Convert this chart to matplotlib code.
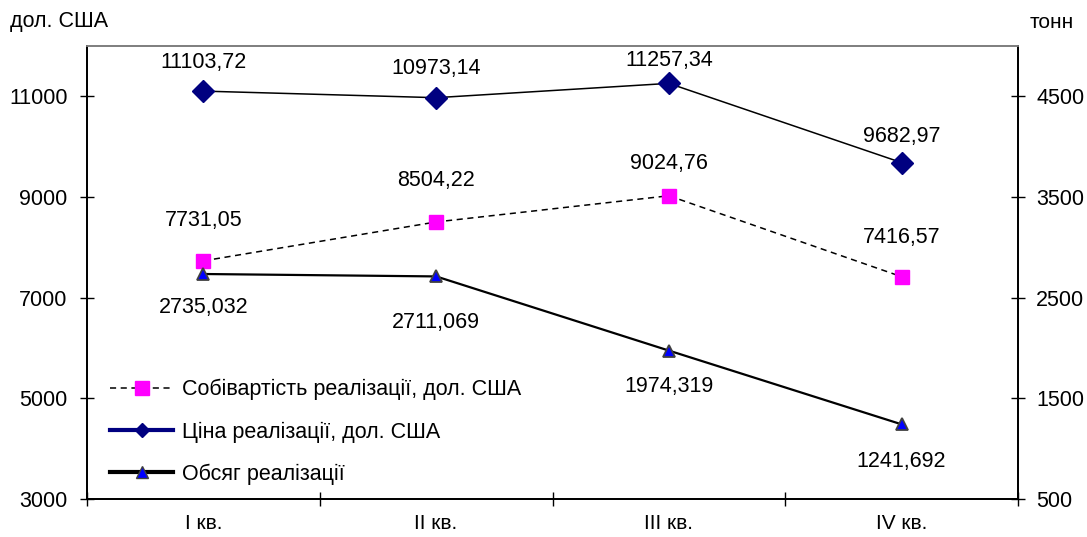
#!/usr/bin/env python3
# -*- coding: utf-8 -*-

"""Price, cost and volume of sales by quarter, on two value axes."""

import matplotlib
matplotlib.use('Agg')
import matplotlib.pyplot as plt
from matplotlib.lines import Line2D

# Data.
quarters = ['I кв.', 'II кв.', 'III кв.', 'IV кв.']
price = [11103.72, 10973.14, 11257.34, 9682.97]
cost = [7731.05, 8504.22, 9024.76, 7416.57]
volume = [2735.032, 2711.069, 1974.319, 1241.692]

left_ticks = [3000, 5000, 7000, 9000, 11000]
right_ticks = [500, 1500, 2500, 3500, 4500]

# Label offsets in pixels (above / below each marker).
price_off = [29, 29, 23, 26]
cost_off = [40, 41, 32, 39]
volume_off = [-33, -46, -36, -37]

plt.rcParams['font.family'] = ['Liberation Sans', 'DejaVu Sans']

fig = plt.figure(figsize=(10.87, 5.37), dpi=100)
ax = fig.add_axes([87 / 1087, 1 - 499 / 537, (1018 - 87) / 1087, (499 - 46) / 537])
ax2 = ax.twinx()

x = list(range(len(quarters)))

# Lines.
ax.plot(x, cost, color='black', linestyle=(0, (4, 3)), linewidth=1.1,
        marker='s', markersize=9.5, markerfacecolor='#ff00ff',
        markeredgecolor='#ff00ff', zorder=3)
ax.plot(x, price, color='black', linewidth=1.1, marker='D', markersize=11.5,
        markerfacecolor='#000080', markeredgecolor='#000080', zorder=4)
ax2.plot(x, volume, color='black', linewidth=1.6, marker='^', markersize=9,
         markerfacecolor='#0000ff', markeredgecolor='#404040',
         markeredgewidth=1.3, zorder=3)

# Data labels.
for i in x:
    ax.annotate('{:.2f}'.format(price[i]).replace('.', ','), (i, price[i]),
                xytext=(0, price_off[i]), textcoords='offset pixels',
                ha='center', va='center', fontsize=15.5)
    ax.annotate('{:.2f}'.format(cost[i]).replace('.', ','), (i, cost[i]),
                xytext=(0, cost_off[i]), textcoords='offset pixels',
                ha='center', va='center', fontsize=15.5)
    ax2.annotate('{:.3f}'.format(volume[i]).replace('.', ','), (i, volume[i]),
                 xytext=(0, volume_off[i]), textcoords='offset pixels',
                 ha='center', va='center', fontsize=15.5)

# Axes.
ax.set_xlim(-0.5, 3.5)
ax.set_ylim(3000, 12000)
ax2.set_ylim(500, 5000)
ax.set_yticks(left_ticks)
ax2.set_yticks(right_ticks)
ax.set_xticks([-0.5, 0.5, 1.5, 2.5, 3.5])
ax.set_xticklabels([])
ax.set_xticks(x, minor=True)
ax.set_xticklabels(quarters, minor=True)

ax.tick_params(axis='x', which='major', direction='inout', length=10, width=1)
ax.tick_params(axis='x', which='minor', length=0, pad=11, labelsize=15)
ax.tick_params(axis='y', direction='inout', length=10, width=1,
               labelsize=15.5, pad=9)
ax2.tick_params(axis='y', direction='inout', length=10, width=1,
                labelsize=15.5, pad=8)

for a in (ax, ax2):
    a.spines['top'].set_color('#808080')
    a.spines['top'].set_linewidth(1.3)
    a.spines['left'].set_linewidth(1.3)
    a.spines['bottom'].set_linewidth(1.3)
    a.spines['right'].set_linewidth(1.3)

fig.text(10 / 1087, 1 - 22 / 537, 'дол. США', fontsize=15.5, va='center')
fig.text(1030 / 1087, 1 - 22 / 537, 'тонн', fontsize=15, va='center')

# Legend with handles as drawn in the reference.
handles = [
    Line2D([], [], color='black', linestyle=(0, (4, 3)), linewidth=1.1,
           marker='s', markersize=9.5, markerfacecolor='#ff00ff',
           markeredgecolor='#ff00ff'),
    Line2D([], [], color='#000080', linewidth=3, marker='D', markersize=7,
           markerfacecolor='#000080', markeredgecolor='#000080'),
    Line2D([], [], color='black', linewidth=3, marker='^', markersize=9,
           markerfacecolor='#0000ff', markeredgecolor='#404040'),
]
labels = ['Собівартість реалізації, дол. США', 'Ціна реалізації, дол. США',
          'Обсяг реалізації']
ax2.legend(handles, labels, loc='center left', bbox_to_anchor=(0.0247, 0.148),
           frameon=False, fontsize=15.5, handlelength=2.93, handletextpad=0.42,
           labelspacing=0.98, borderaxespad=0, borderpad=0)

fig.savefig('out.png', dpi=100)
